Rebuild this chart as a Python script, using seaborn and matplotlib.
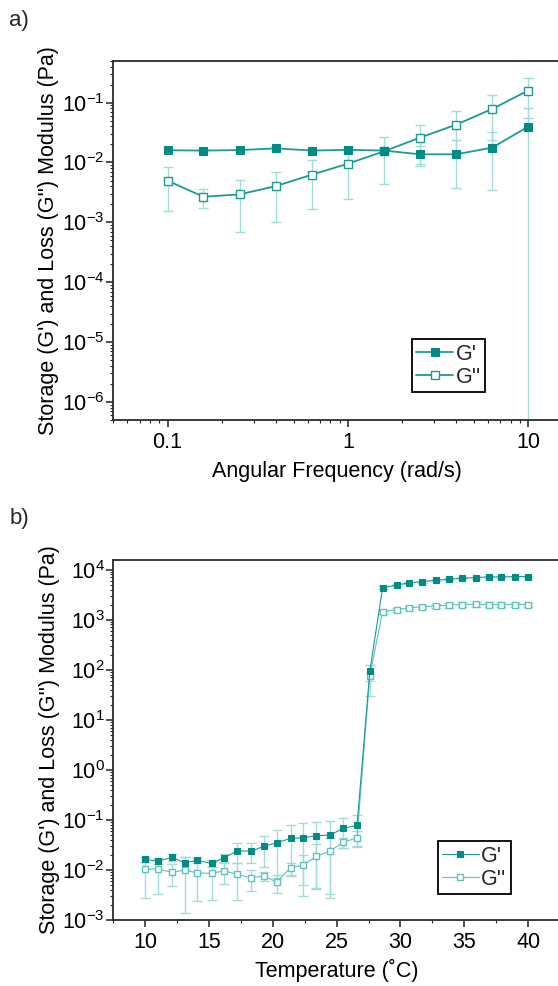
import numpy as np
import matplotlib
matplotlib.use("Agg")
import matplotlib.pyplot as plt
import matplotlib.ticker as mticker
import seaborn as sns

# panel a: frequency sweep
freq = [0.1, 0.158, 0.251, 0.398, 0.631, 1.0, 1.585, 2.512, 3.981, 6.31, 10.0]
g1_freq = [0.0160, 0.0158, 0.0161, 0.0172, 0.0158, 0.0163, 0.0158, 0.0137, 0.0137, 0.0177, 0.0397]
g1_freq_sd = [0.001, 0.001, 0.001, 0.0015, 0.001, 0.002, 0.0015, 0.005, 0.010, 0.0142, 0.043]
g2_freq = [0.00497, 0.00268, 0.00293, 0.00403, 0.00625, 0.00954, 0.01535, 0.0260, 0.0428, 0.0783, 0.159]
g2_freq_sd = [0.0034, 0.00093, 0.00225, 0.0030, 0.0046, 0.0071, 0.0109, 0.0164, 0.0298, 0.055, 0.103]

# panel b: temperature sweep
temp = [10.0, 11.0, 12.1, 13.1, 14.1, 15.2, 16.2, 17.2, 18.3, 19.3, 20.3, 21.4, 22.4, 23.4, 24.5,
        25.5, 26.6, 27.6, 28.6, 29.7, 30.7, 31.7, 32.8, 33.8, 34.8, 35.9, 36.9, 37.9, 39.0, 40.0]
g1_temp = [0.0163, 0.0149, 0.0178, 0.0140, 0.0155, 0.0136, 0.0176, 0.0239, 0.0239, 0.0296, 0.0350,
           0.0427, 0.0440, 0.0483, 0.0498, 0.0676, 0.0777, 93.6, 4305, 4943, 5420, 5750, 6125,
           6415, 6718, 6924, 7136, 7136, 7245, 7245]
g1_temp_sd = [0.002, 0.002, 0.003, 0.004, 0.002, 0.002, 0.003, 0.010, 0.010, 0.018, 0.028, 0.035,
              0.041, 0.044, 0.047, 0.040, 0.048, 33, 300, 300, 300, 300, 300, 300, 300, 300, 300,
              300, 300, 300]
g2_temp = [0.0103, 0.01045, 0.00896, 0.00997, 0.00869, 0.00855, 0.00966, 0.00816, 0.00701, 0.00757,
           0.00574, 0.0111, 0.01255, 0.0187, 0.0239, 0.0356, 0.0440, 76.6, 1429, 1591, 1719, 1799,
           1884, 1942, 2002, 2010, 2002, 2002, 1995, 1995]
g2_temp_sd = [0.0075, 0.0071, 0.0042, 0.0086, 0.0063, 0.0060, 0.0043, 0.0056, 0.0032, 0.0016,
              0.0023, 0.0030, 0.0076, 0.0146, 0.0206, 0.0085, 0.0147, 47, 150, 150, 180, 180, 200,
              200, 200, 200, 200, 200, 200, 200]

sns.set_style("ticks")
plt.rcParams["font.family"] = ["Liberation Sans", "DejaVu Sans"]
plt.rcParams["mathtext.fontset"] = "custom"
plt.rcParams["mathtext.rm"] = "Liberation Sans"
plt.rcParams["mathtext.it"] = "Liberation Sans:italic"
plt.rcParams["mathtext.bf"] = "Liberation Sans:bold"

DARK = "#008b83"
LINE = "#1a9b94"
LIGHT = "#5fc2bd"
ERR = "#a3dcd9"
YLABEL = "Storage (G') and Loss (G'') Modulus (Pa)"
FS = 15.5

fig = plt.figure(figsize=(5.58, 9.86), dpi=100)
ax1 = fig.add_axes([0.2029, 0.574, 0.8007, 0.3644])
ax2 = fig.add_axes([0.2029, 0.0669, 0.8007, 0.3651])


def draw(ax, x, g1, g1sd, g2, g2sd, lw, ms, g2col):
    ax.set_yscale("log")
    ax.errorbar(x, g2, yerr=g2sd, fmt="none", ecolor=ERR, elinewidth=1.0, capsize=3.5, zorder=1)
    ax.errorbar(x, g1, yerr=g1sd, fmt="none", ecolor=ERR, elinewidth=1.0, capsize=3.5, zorder=1)
    sns.lineplot(x=x, y=g1, ax=ax, color=LINE, lw=lw, marker="s", ms=ms, mfc=DARK, mec=DARK,
                 label="G'", zorder=3)
    sns.lineplot(x=x, y=g2, ax=ax, color=g2col, lw=lw, marker="s", ms=ms, mfc="white",
                 mec=g2col, mew=1.0, label="G''", zorder=2)


ax1.set_xscale("log")
draw(ax1, freq, g1_freq, g1_freq_sd, g2_freq, g2_freq_sd, 1.3, 6.0, LINE)
draw(ax2, temp, g1_temp, g1_temp_sd, g2_temp, g2_temp_sd, 0.8, 5.0, LIGHT)

ax1.set_xlim(0.05, 15)
ax1.set_ylim(5e-7, 0.5)
ax1.xaxis.set_major_locator(mticker.FixedLocator([0.1, 1, 10]))
ax1.xaxis.set_major_formatter(mticker.FixedFormatter(["0.1", "1", "10"]))
ax1.xaxis.set_minor_locator(mticker.LogLocator(base=10, subs=np.arange(2, 10)))
ax1.xaxis.set_minor_formatter(mticker.NullFormatter())
ax1.yaxis.set_major_locator(mticker.LogLocator(base=10, numticks=20))
ax1.yaxis.set_minor_locator(mticker.LogLocator(base=10, subs=np.arange(2, 10), numticks=20))
ax1.set_xlabel("Angular Frequency (rad/s)", fontsize=FS, labelpad=6)

ax2.set_xlim(7.5, 42.5)
ax2.set_ylim(1e-3, 1.55e4)
ax2.xaxis.set_major_locator(mticker.MultipleLocator(5))
ax2.xaxis.set_minor_locator(mticker.MultipleLocator(2.5))
ax2.yaxis.set_major_locator(mticker.LogLocator(base=10, numticks=20))
ax2.yaxis.set_minor_locator(mticker.LogLocator(base=10, subs=np.arange(2, 10), numticks=20))
ax2.set_xlabel("Temperature (\u02daC)", fontsize=FS, labelpad=4)

for ax, anchor in [(ax1, (0.832, 0.078)), (ax2, (0.89, 0.072))]:
    ax.set_ylabel(YLABEL, fontsize=FS, labelpad=2, color="black")
    ax.xaxis.label.set_color("black")
    ax.tick_params(which="major", direction="out", length=5, width=1.1, labelsize=FS,
                   top=False, right=False, color="#222222", labelcolor="black")
    ax.tick_params(axis="y", which="major", pad=1)
    ax.tick_params(which="minor", direction="out", length=2.5, width=0.8,
                   top=False, right=False, color="#222222")
    for side in ["left", "bottom", "top", "right"]:
        ax.spines[side].set_color("#2a2a2a")
        ax.spines[side].set_linewidth(1.3)
    leg = ax.legend(loc="lower right", bbox_to_anchor=anchor, fancybox=False, framealpha=1,
                    edgecolor="black", fontsize=FS, handlelength=1.7, handletextpad=0.12,
                    borderpad=0.2, labelspacing=0.1, borderaxespad=0)
    leg.get_frame().set_linewidth(1.3)

fig.text(0.017, 0.979, "a)", fontsize=16, ha="left", va="center")
fig.text(0.017, 0.474, "b)", fontsize=16, ha="left", va="center")

fig.savefig("out.png", dpi=100)
